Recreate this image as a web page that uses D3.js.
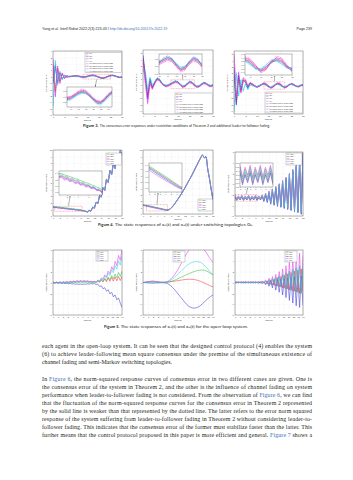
<!DOCTYPE html>
<html><head><meta charset="utf-8">
<script src="https://cdn.jsdelivr.net/npm/d3@7/dist/d3.min.js"></script>
<style>html,body{margin:0;padding:0;background:#fff;}svg{display:block}</style>
</head><body>
<svg id="page" width="353" height="480" viewBox="0 0 353 480"></svg>
<script>
// ================= DATA =================
// Figure 3 (consensus errors), time 0..30
const f3Time = d3.range(0, 31, 1);
const f3XTicks = [0,5,10,15,20,25,30];
const f3YTicks = [-6,-5,-4,-3,-2,-1,0,1,2,3,4];
const f3YTicksB = [-4,-3,-2,-1,0,1,2,3,4,5];
const f3Labels = ["e1(t)","e2(t)","e3(t)","e4(t)",
  "e1(t) without leader-to-follower fading","e2(t) without leader-to-follower fading",
  "e3(t) without leader-to-follower fading","e4(t) without leader-to-follower fading"];
// panel a
const f3aE1 = [1.8,-2.4,1.2,-0.7,0.4,-0.2,0.1,0.02,0.05,0.08,0.1,0.06,0.0,-0.05,-0.02,0.05,0.12,0.18,0.15,0.05,-0.08,-0.18,-0.2,-0.1,0.05,0.15,0.18,0.1,-0.02,-0.1,-0.08];
const f3aE2 = [-1.2,1.6,-0.9,0.6,-0.35,0.2,-0.08,0.0,0.04,0.06,0.08,0.04,-0.02,-0.08,-0.06,0.02,0.1,0.15,0.12,0.02,-0.1,-0.2,-0.22,-0.12,0.02,0.12,0.16,0.08,-0.04,-0.12,-0.1];
const f3aE3 = [2.8,-3.2,1.6,-1.0,0.55,-0.3,0.15,-0.05,0.0,0.1,0.14,0.1,0.04,-0.02,0.0,0.08,0.16,0.22,0.2,0.08,-0.05,-0.15,-0.18,-0.06,0.08,0.18,0.22,0.12,0.0,-0.08,-0.05];
const f3aE4 = [-4.8,2.4,-1.3,0.8,-0.45,0.25,-0.12,0.06,0.02,0.04,0.05,0.0,-0.06,-0.12,-0.1,-0.02,0.06,0.12,0.1,0.0,-0.12,-0.24,-0.26,-0.16,-0.02,0.1,0.14,0.06,-0.06,-0.14,-0.12];
const f3aE1n = [1.6,-2.2,1.3,-0.8,0.5,-0.25,0.12,0.0,0.06,0.12,0.14,0.08,-0.02,-0.1,-0.06,0.06,0.18,0.24,0.2,0.06,-0.12,-0.24,-0.26,-0.12,0.06,0.2,0.24,0.12,-0.04,-0.14,-0.1];
const f3aE2n = [-1.0,1.8,-1.0,0.65,-0.4,0.22,-0.1,0.02,0.06,0.1,0.12,0.06,-0.04,-0.12,-0.1,0.02,0.14,0.2,0.16,0.02,-0.14,-0.26,-0.28,-0.14,0.04,0.16,0.2,0.1,-0.06,-0.16,-0.12];
const f3aE3n = [2.6,-3.0,1.7,-1.1,0.6,-0.32,0.18,-0.04,0.02,0.14,0.18,0.14,0.06,-0.04,-0.02,0.1,0.2,0.28,0.24,0.1,-0.08,-0.2,-0.22,-0.08,0.1,0.22,0.26,0.14,0.0,-0.1,-0.06];
const f3aE4n = [-4.5,2.6,-1.4,0.85,-0.5,0.28,-0.14,0.08,0.04,0.08,0.08,0.02,-0.08,-0.16,-0.14,-0.04,0.08,0.16,0.14,0.02,-0.16,-0.3,-0.32,-0.2,-0.04,0.12,0.18,0.08,-0.08,-0.18,-0.14];
// panel b
const f3bE1 = [4.2,1.0,-1.6,0.6,-0.4,0.3,0.9,0.8,0.3,0.0,-0.1,0.0,0.2,0.35,0.5,0.4,0.1,-0.2,-0.1,0.2,0.45,0.35,0.05,-0.2,-0.15,0.1,0.3,0.25,0.0,-0.1,0.0];
const f3bE2 = [4.7,1.6,-2.0,0.9,-0.3,0.4,1.0,0.9,0.35,0.05,-0.05,0.05,0.25,0.45,0.6,0.5,0.15,-0.15,-0.05,0.25,0.55,0.45,0.1,-0.15,-0.1,0.15,0.35,0.3,0.05,-0.05,0.05];
const f3bE3 = [3.6,0.2,-2.9,0.2,-0.6,0.2,0.8,0.7,0.2,-0.1,-0.2,-0.1,0.1,0.25,0.4,0.3,0.0,-0.3,-0.2,0.1,0.35,0.25,-0.05,-0.3,-0.25,0.0,0.2,0.15,-0.1,-0.2,-0.1];
const f3bE4 = [2.4,2.0,-0.8,1.2,0.0,0.5,1.1,0.95,0.4,0.1,0.0,0.1,0.3,0.4,0.5,0.45,0.2,-0.05,0.0,0.3,0.5,0.4,0.15,-0.1,-0.05,0.2,0.4,0.3,0.1,0.0,0.1];
const f3bE1n = [4.0,1.2,-1.8,0.7,-0.5,0.35,1.0,0.9,0.35,-0.05,-0.2,-0.05,0.25,0.45,0.6,0.45,0.05,-0.3,-0.2,0.25,0.55,0.4,0.0,-0.3,-0.25,0.1,0.4,0.3,-0.05,-0.2,-0.05];
const f3bE2n = [4.5,1.8,-2.2,1.0,-0.4,0.45,1.1,1.0,0.4,0.0,-0.1,0.05,0.3,0.55,0.7,0.55,0.1,-0.25,-0.15,0.3,0.65,0.5,0.05,-0.25,-0.2,0.15,0.45,0.35,0.0,-0.15,0.0];
const f3bE3n = [3.4,0.4,-2.7,0.3,-0.7,0.25,0.9,0.8,0.25,-0.15,-0.3,-0.15,0.15,0.35,0.5,0.35,-0.05,-0.4,-0.3,0.15,0.45,0.3,-0.1,-0.4,-0.35,0.0,0.3,0.2,-0.15,-0.3,-0.15];
const f3bE4n = [2.2,2.2,-0.6,1.3,0.1,0.55,1.2,1.05,0.45,0.05,-0.05,0.1,0.35,0.5,0.6,0.5,0.15,-0.15,-0.1,0.35,0.6,0.45,0.1,-0.2,-0.15,0.2,0.5,0.35,0.05,-0.1,0.05];
// panel c
const f3cE1 = [1.5,-2.6,1.1,-0.9,0.6,0.8,-0.2,0.3,0.2,0.0,-0.2,-0.1,0.1,0.3,0.2,-0.05,-0.3,-0.2,0.1,0.3,0.25,-0.05,-0.25,-0.15,0.1,0.25,0.15,-0.05,-0.15,0.0,0.1];
const f3cE2 = [3.0,-3.1,1.6,-0.6,0.9,0.5,-0.4,0.4,0.1,-0.1,-0.15,0.0,0.15,0.25,0.1,-0.15,-0.25,-0.1,0.15,0.25,0.15,-0.1,-0.2,-0.1,0.15,0.2,0.1,-0.1,-0.1,0.05,0.1];
const f3cE3 = [5.2,-1.9,2.1,-1.1,1.2,0.9,0.0,0.5,0.3,0.05,-0.25,-0.05,0.2,0.4,0.3,0.0,-0.35,-0.25,0.15,0.4,0.35,0.0,-0.3,-0.2,0.1,0.3,0.2,-0.05,-0.2,-0.05,0.1];
const f3cE4 = [-4.2,1.9,-1.6,0.9,-0.8,0.3,-0.6,0.1,0.0,-0.05,-0.1,0.05,0.2,0.2,0.0,-0.2,-0.2,0.0,0.25,0.2,0.05,-0.15,-0.15,0.0,0.2,0.15,0.05,-0.1,-0.05,0.1,0.15];
const f3cE1n = [1.4,-2.4,1.2,-1.0,0.7,0.9,-0.25,0.35,0.25,0.0,-0.3,-0.15,0.15,0.4,0.25,-0.1,-0.4,-0.25,0.15,0.4,0.3,-0.1,-0.35,-0.2,0.15,0.35,0.2,-0.1,-0.2,0.0,0.15];
const f3cE2n = [2.8,-2.9,1.7,-0.7,1.0,0.55,-0.45,0.45,0.15,-0.15,-0.25,0.0,0.2,0.35,0.15,-0.2,-0.35,-0.15,0.2,0.35,0.2,-0.15,-0.3,-0.15,0.2,0.3,0.15,-0.15,-0.15,0.05,0.15];
const f3cE3n = [5.0,-1.7,2.2,-1.2,1.3,1.0,0.05,0.55,0.35,0.05,-0.35,-0.1,0.25,0.5,0.35,0.0,-0.45,-0.3,0.2,0.5,0.4,0.0,-0.4,-0.25,0.15,0.4,0.25,-0.1,-0.25,-0.05,0.15];
const f3cE4n = [-4.0,2.1,-1.7,1.0,-0.9,0.35,-0.65,0.15,0.0,-0.1,-0.2,0.05,0.25,0.3,0.05,-0.25,-0.3,0.0,0.3,0.3,0.05,-0.2,-0.25,0.0,0.25,0.25,0.05,-0.15,-0.1,0.1,0.2];

// Figure 4 (state responses, switching topologies), time 0..20 step 0.5
const f4Time = d3.range(0, 20.001, 0.5);
const f4XTicks = [0,2,4,6,8,10,12,14,16,18,20];
const f4YTicks = [0,1,2,3,4,5,6,7,8,9,10];
const f4YTicksC = [-6,-4,-2,0,2,4,6];
const f4Labels = ["x11(t)","x21(t)","x31(t)","x41(t)","x51(t)"];
const f4aX1 = [1.44,1.40,1.39,1.35,1.33,1.29,1.27,1.23,1.21,1.17,1.14,1.10,1.08,1.03,1.01,0.96,0.93,0.87,0.83,0.74,0.65,0.87,0.77,1.37,1.22,2.12,1.92,3.12,2.92,4.32,3.92,5.62,5.12,6.92,6.32,8.02,7.22,9.02,8.02,9.92,9.22];
const f4aX2 = [1.38,1.30,1.33,1.27,1.28,1.20,1.22,1.15,1.16,1.08,1.09,1.02,1.02,0.95,0.95,0.88,0.87,0.80,0.78,0.69,0.61,0.84,0.74,1.34,1.19,2.09,1.89,3.09,2.89,4.29,3.89,5.59,5.09,6.89,6.29,7.99,7.19,8.99,7.99,9.89,9.19];
const f4aX3 = [1.36,1.28,1.30,1.22,1.24,1.16,1.18,1.10,1.12,1.04,1.06,0.99,1.00,0.93,0.94,0.87,0.86,0.79,0.77,0.68,0.60,0.83,0.73,1.33,1.18,2.08,1.88,3.08,2.88,4.28,3.88,5.58,5.08,6.88,6.28,7.98,7.18,8.98,7.98,9.88,9.18];
const f4aX4 = [1.32,1.25,1.27,1.19,1.20,1.13,1.15,1.07,1.09,1.02,1.03,0.96,0.97,0.91,0.92,0.85,0.85,0.78,0.76,0.67,0.59,0.82,0.72,1.32,1.17,2.07,1.87,3.07,2.87,4.27,3.87,5.57,5.07,6.87,6.27,7.97,7.17,8.97,7.97,9.87,9.17];
const f4aX5 = [1.40,1.34,1.37,1.29,1.31,1.23,1.25,1.17,1.19,1.11,1.12,1.04,1.05,0.97,0.98,0.90,0.90,0.82,0.80,0.70,0.62,0.85,0.75,1.35,1.20,2.10,1.90,3.10,2.90,4.30,3.90,5.60,5.10,6.90,6.30,8.00,7.20,9.00,8.00,9.90,9.20];
const f4bX1 = [1.46,1.41,1.36,1.30,1.24,1.18,1.12,1.06,1.00,0.94,0.88,0.81,0.75,0.68,0.63,0.72,0.92,1.22,1.57,1.97,2.37,2.77,3.22,3.67,4.12,4.62,5.12,5.62,6.12,6.67,7.22,7.77,8.32,8.82,9.22,8.82,8.97,7.02,5.52,3.82,2.22];
const f4bX2 = [1.42,1.37,1.31,1.26,1.20,1.14,1.08,1.02,0.96,0.90,0.84,0.78,0.72,0.66,0.61,0.71,0.91,1.21,1.56,1.96,2.36,2.76,3.21,3.66,4.11,4.61,5.11,5.61,6.11,6.66,7.21,7.76,8.31,8.81,9.21,8.81,8.96,7.01,5.51,3.81,2.21];
const f4bX3 = [1.38,1.32,1.27,1.21,1.15,1.09,1.03,0.97,0.91,0.85,0.79,0.73,0.68,0.62,0.59,0.69,0.89,1.19,1.54,1.94,2.34,2.74,3.19,3.64,4.09,4.59,5.09,5.59,6.09,6.64,7.19,7.74,8.29,8.79,9.19,8.79,8.94,6.99,5.49,3.79,2.19];
const f4bX4 = [1.34,1.27,1.22,1.15,1.09,1.03,0.97,0.92,0.86,0.81,0.76,0.70,0.65,0.60,0.57,0.68,0.88,1.18,1.53,1.93,2.33,2.73,3.18,3.63,4.08,4.58,5.08,5.58,6.08,6.63,7.18,7.73,8.28,8.78,9.18,8.78,8.93,6.98,5.48,3.78,2.18];
const f4bX5 = [1.40,1.35,1.30,1.24,1.18,1.12,1.06,1.00,0.94,0.88,0.82,0.76,0.70,0.64,0.60,0.70,0.90,1.20,1.55,1.95,2.35,2.75,3.20,3.65,4.10,4.60,5.10,5.60,6.10,6.65,7.20,7.75,8.30,8.80,9.20,8.80,8.95,7.00,5.50,3.80,2.20];
const f4cX1 = [-2.2,-2.8,-2.3,-2.7,-2.2,-2.8,-2.3,-2.7,-2.2,-2.8,-2.3,-2.7,-2.2,-2.8,-2.3,-2.7,-2.1,-3.0,-1.8,-3.2,-1.4,-3.5,-1.0,-3.7,-0.5,-3.9,0.0,-4.1,0.6,-4.3,1.2,-4.5,1.9,-4.7,2.7,-4.9,3.5,-5.1,4.5,-5.4,5.9];
const f4cX2 = [-2.4,-3.0,-2.5,-2.9,-2.4,-3.0,-2.5,-2.9,-2.4,-3.0,-2.5,-2.9,-2.4,-3.0,-2.5,-2.9,-2.3,-3.2,-2.0,-3.4,-1.6,-3.7,-1.2,-3.9,-0.7,-4.1,-0.2,-4.3,0.4,-4.5,1.0,-4.7,1.7,-4.9,2.5,-5.1,3.3,-5.3,4.3,-5.6,5.7];
const f4cX3 = [-2.5,-3.1,-2.6,-3.0,-2.5,-3.1,-2.6,-3.0,-2.5,-3.1,-2.6,-3.0,-2.5,-3.1,-2.6,-3.0,-2.4,-3.3,-2.1,-3.5,-1.7,-3.8,-1.3,-4.0,-0.8,-4.2,-0.3,-4.4,0.3,-4.6,0.9,-4.8,1.6,-5.0,2.4,-5.2,3.2,-5.4,4.2,-5.7,5.6];
const f4cX4 = [-2.1,-2.7,-2.2,-2.6,-2.1,-2.7,-2.2,-2.6,-2.1,-2.7,-2.2,-2.6,-2.1,-2.7,-2.2,-2.6,-2.0,-2.9,-1.7,-3.1,-1.3,-3.4,-0.9,-3.6,-0.4,-3.8,0.1,-4.0,0.7,-4.2,1.3,-4.4,2.0,-4.6,2.8,-4.8,3.6,-5.0,4.6,-5.3,6.0];
const f4cX5 = [-2.3,-2.9,-2.4,-2.8,-2.3,-2.9,-2.4,-2.8,-2.3,-2.9,-2.4,-2.8,-2.3,-2.9,-2.4,-2.8,-2.2,-3.1,-1.9,-3.3,-1.5,-3.6,-1.1,-3.8,-0.6,-4.0,-0.1,-4.2,0.5,-4.4,1.1,-4.6,1.8,-4.8,2.6,-5.0,3.4,-5.2,4.4,-5.5,5.8];

// Figure 5 (open-loop), time 0..14 step 0.35
const f5Time = d3.range(0, 14.001, 0.35);
const f5XTicks = [0,1,2,3,4,5,6,7,8,9,10,11,12,13,14];
const f5YTicks = [-6,-4,-2,0,2,4,6];
const f5Labels = ["x11(t)","x21(t)","x31(t)","x41(t)","x51(t)"];
const f5aX1 = [0.08,-0.02,0.08,-0.02,0.1,0.0,0.12,0.02,0.16,0.06,0.2,0.1,0.26,0.14,0.3,0.18,0.32,0.2,0.3,0.18,0.26,0.14,0.2,0.1,0.15,0.05,0.35,0.05,0.55,0.1,0.7,0.15,0.85,0.2,0.95,0.25,1.05,0.3,1.1,0.35,1.15];
const f5aX2 = [0.0,-0.1,0.0,-0.1,0.0,-0.1,0.02,-0.08,0.04,-0.06,0.06,-0.04,0.08,-0.02,0.1,0.0,0.1,0.0,0.1,0.0,0.08,-0.02,0.06,-0.04,0.05,-0.05,0.25,0.05,0.45,0.2,0.7,0.35,0.95,0.5,1.25,0.7,1.55,0.9,1.85,1.1,2.1];
const f5aX3 = [-0.02,-0.12,-0.04,-0.14,-0.06,-0.16,-0.1,-0.2,-0.14,-0.24,-0.18,-0.28,-0.22,-0.32,-0.26,-0.34,-0.28,-0.36,-0.28,-0.34,-0.24,-0.3,-0.2,-0.26,-0.2,-0.4,-0.3,-0.75,-0.6,-1.15,-0.95,-1.6,-1.35,-2.1,-1.8,-2.65,-2.3,-3.2,-2.85,-3.8,-4.6];
const f5aX4 = [0.05,-0.05,0.05,-0.05,0.06,-0.04,0.08,-0.02,0.1,0.0,0.14,0.04,0.2,0.1,0.28,0.16,0.32,0.2,0.34,0.22,0.3,0.18,0.24,0.12,0.2,0.1,0.45,0.3,0.85,0.6,1.4,1.0,2.1,1.6,2.9,2.3,3.9,3.1,5.0,4.1,6.2];
const f5aX5 = [0.02,-0.08,0.03,-0.07,0.04,-0.06,0.05,-0.05,0.07,-0.03,0.1,0.0,0.14,0.04,0.2,0.08,0.22,0.1,0.22,0.1,0.2,0.08,0.16,0.04,0.12,0.05,0.35,0.2,0.7,0.45,1.15,0.8,1.7,1.25,2.35,1.8,3.1,2.45,4.0,3.2,4.9];
const f5bX1 = [0.0,0.05,0.1,0.15,0.2,0.22,0.22,0.2,0.16,0.12,0.08,0.06,0.05,0.06,0.08,0.12,0.16,0.2,0.25,0.3,0.35,0.4,0.45,0.5,0.55,0.58,0.6,0.6,0.58,0.55,0.5,0.42,0.32,0.2,0.06,-0.1,-0.25,-0.4,-0.55,-0.7,-0.8];
const f5bX2 = [0.0,0.0,0.02,0.04,0.05,0.06,0.06,0.05,0.04,0.02,0.0,0.0,0.0,0.02,0.05,0.12,0.2,0.3,0.42,0.55,0.7,0.85,1.0,1.15,1.3,1.45,1.6,1.75,1.88,2.0,2.1,2.2,2.25,2.3,2.3,2.25,2.15,2.0,1.8,1.6,1.4];
const f5bX3 = [0.0,-0.02,-0.05,-0.08,-0.1,-0.12,-0.12,-0.1,-0.08,-0.06,-0.05,-0.05,-0.06,-0.1,-0.2,-0.4,-0.65,-0.95,-1.3,-1.7,-2.1,-2.5,-2.9,-3.3,-3.7,-4.05,-4.35,-4.55,-4.68,-4.72,-4.7,-4.6,-4.45,-4.2,-3.9,-3.6,-3.3,-3.0,-2.75,-2.5,-2.3];
const f5bX4 = [0.0,0.05,0.1,0.15,0.2,0.25,0.25,0.2,0.15,0.1,0.05,0.05,0.05,0.1,0.2,0.4,0.7,1.0,1.4,1.9,2.4,3.0,3.6,4.2,4.8,5.4,5.9,6.3,6.6,6.8,6.9,6.9,6.8,6.6,6.3,6.0,5.6,5.1,4.6,4.1,3.7];
const f5bX5 = [0.0,0.02,0.05,0.08,0.1,0.12,0.12,0.1,0.08,0.05,0.03,0.02,0.02,0.05,0.1,0.25,0.45,0.7,0.95,1.25,1.55,1.85,2.2,2.5,2.8,3.1,3.35,3.55,3.7,3.8,3.85,3.85,3.8,3.7,3.5,3.2,2.9,2.5,2.1,1.7,1.4];
const f5cX1 = [0.0,0.05,0.0,0.05,0.0,0.05,0.0,0.05,0.0,0.05,0.0,0.05,0.0,0.05,-0.05,0.08,-0.08,0.12,-0.2,0.3,-0.35,0.5,-0.5,0.7,-0.65,0.9,-0.8,1.1,-1.0,1.35,-1.2,1.6,-1.4,1.85,-1.6,2.1,-1.8,2.3,-2.0,2.5,-1.6];
const f5cX2 = [0.1,-0.05,0.1,-0.05,0.1,-0.05,0.1,-0.05,0.1,-0.05,0.1,-0.05,0.1,-0.05,0.12,-0.06,0.15,-0.08,0.3,-0.2,0.5,-0.35,0.7,-0.5,0.95,-0.65,1.2,-0.8,1.5,-1.0,1.8,-1.2,2.1,-1.4,2.4,-1.6,2.7,-1.8,3.0,-2.0,2.6];
const f5cX3 = [-0.1,0.1,-0.1,0.1,-0.1,0.1,-0.1,0.1,-0.1,0.1,-0.1,0.1,-0.1,0.1,-0.15,0.1,-0.2,0.15,-0.4,0.2,-0.7,0.3,-1.0,0.4,-1.4,0.5,-1.8,0.6,-2.3,0.7,-2.8,0.8,-3.3,0.9,-3.8,1.0,-4.3,1.1,-4.6,1.2,-4.2];
const f5cX4 = [0.2,-0.1,0.2,-0.1,0.2,-0.1,0.2,-0.1,0.2,-0.1,0.2,-0.1,0.2,-0.1,0.25,-0.1,0.3,-0.15,0.5,-0.2,0.8,-0.3,1.1,-0.4,1.5,-0.5,2.0,-0.6,2.5,-0.7,3.1,-0.8,3.7,-0.9,4.3,-1.0,4.9,-1.1,5.4,-1.2,5.0];
const f5cX5 = [0.05,0.0,0.05,0.0,0.05,0.0,0.05,0.0,0.05,0.0,0.05,0.0,0.05,0.0,0.08,-0.03,0.1,-0.05,0.25,-0.1,0.45,-0.2,0.65,-0.3,0.9,-0.4,1.15,-0.5,1.45,-0.6,1.75,-0.7,2.05,-0.8,2.4,-0.9,2.75,-1.0,3.1,-1.1,2.8];

// ================= STYLE =================
const C = {red:"#f0373c", blue:"#3a3ad8", mag:"#e23ee6", cyan:"#2fd3e6", green:"#2fbf3a"};
const SANS = "'Liberation Sans', Arial, sans-serif";
const svg = d3.select("#page");
svg.append("rect").attr("width",353).attr("height",480).attr("fill","#fff");
const defs = svg.append("defs");
defs.append("marker").attr("id","arr").attr("viewBox","0 0 10 10").attr("refX",9).attr("refY",5)
  .attr("markerWidth",4).attr("markerHeight",4).attr("orient","auto")
  .append("path").attr("d","M0,1 L10,5 L0,9 Z").attr("fill","#222");

function mk(vals, labels, colors, dashes){
  return vals.map((v,i)=>({values:v,label:labels[i],color:colors[i],dashed:dashes?dashes[i]:false}));
}

let clipN = 0;
function styleAxis(a, fs){
  a.select(".domain").remove();
  a.selectAll(".tick line").attr("stroke","#d2d2d2").attr("stroke-width",0.25).attr("stroke-dasharray","0.6,0.6");
  a.selectAll(".tick text").attr("font-size",fs).attr("fill","#333").attr("font-family",SANS);
}
function drawPanel(p){
  const g = svg.append("g");
  const x = d3.scaleLinear().domain(p.xDomain).range([p.x, p.x+p.w]);
  const y = d3.scaleLinear().domain(p.yDomain).range([p.y+p.h, p.y]);
  const gx = g.append("g").attr("transform",`translate(0,${p.y+p.h})`)
    .call(d3.axisBottom(x).tickValues(p.xTicks).tickSize(-p.h).tickPadding(1.1));
  const gy = g.append("g").attr("transform",`translate(${p.x},0)`)
    .call(d3.axisLeft(y).tickValues(p.yTicks).tickSize(-p.w).tickPadding(1.1));
  styleAxis(gx,2.2); styleAxis(gy,2.2);
  const cid = "cl"+(clipN++);
  g.append("clipPath").attr("id",cid).append("rect").attr("x",p.x).attr("y",p.y).attr("width",p.w).attr("height",p.h);
  const lg = g.append("g").attr("clip-path",`url(#${cid})`);
  const line = d3.line().x((d,i)=>x(p.t[i])).y(d=>y(d)).curve(p.smooth?d3.curveMonotoneX:d3.curveLinear);
  p.series.forEach(s=>lg.append("path").attr("d",line(s.values)).attr("fill","none")
    .attr("stroke",s.color).attr("stroke-width",0.55).attr("stroke-linejoin","round")
    .attr("stroke-dasharray",s.dashed?"1.2,0.7":null));
  g.append("rect").attr("x",p.x).attr("y",p.y).attr("width",p.w).attr("height",p.h)
    .attr("fill","none").attr("stroke","#444").attr("stroke-width",0.4);
  g.append("text").attr("x",p.x+p.w/2).attr("y",p.y+p.h+5.6).attr("text-anchor","middle")
    .attr("font-size",2.3).attr("font-family",SANS).attr("fill","#333").text("Time(s)");
  g.append("text").attr("transform",`translate(${p.x-5.6},${p.y+p.h/2}) rotate(-90)`).attr("text-anchor","middle")
    .attr("font-size",2.4).attr("font-family",SANS).attr("fill","#333").text(p.yLabel);
  if(p.inset) drawInset(g,p,x,y);
  if(p.legend) drawLegend(g,p);
}
function drawInset(g,p,x,y){
  const s=p.inset, t0=s.win[0], t1=s.win[1];
  const vals=[];
  p.series.forEach(se=>se.values.forEach((v,i)=>{ if(p.t[i]>=t0-1e-9 && p.t[i]<=t1+1e-9) vals.push(v); }));
  let [lo,hi]=d3.extent(vals); const pad=(hi-lo)*0.12; lo-=pad; hi+=pad;
  const rx=x(t0), rw=x(t1)-x(t0), ry=y(hi), rh=y(lo)-y(hi);
  g.append("rect").attr("x",rx).attr("y",ry).attr("width",rw).attr("height",rh).attr("fill","none")
    .attr("stroke","#e8343a").attr("stroke-width",0.35).attr("stroke-dasharray","0.9,0.6");
  const ix=d3.scaleLinear().domain([t0,t1]).range([s.x,s.x+s.w]);
  const iy=d3.scaleLinear().domain([lo,hi]).range([s.y+s.h,s.y]);
  g.append("rect").attr("x",s.x).attr("y",s.y).attr("width",s.w).attr("height",s.h).attr("fill","#fff");
  const ax=g.append("g").attr("transform",`translate(0,${s.y+s.h})`).call(d3.axisBottom(ix).ticks(5).tickSize(0.8).tickPadding(0.6));
  const ay=g.append("g").attr("transform",`translate(${s.x},0)`).call(d3.axisLeft(iy).ticks(4).tickSize(0.8).tickPadding(0.6));
  [ax,ay].forEach(a=>{a.select(".domain").remove(); a.selectAll(".tick line").attr("stroke","#444").attr("stroke-width",0.25);
    a.selectAll(".tick text").attr("font-size",1.7).attr("fill","#333").attr("font-family",SANS);});
  const cid="cl"+(clipN++);
  g.append("clipPath").attr("id",cid).append("rect").attr("x",s.x).attr("y",s.y).attr("width",s.w).attr("height",s.h);
  const lg=g.append("g").attr("clip-path",`url(#${cid})`);
  const line=d3.line().defined((d,i)=>p.t[i]>=t0-1e-9 && p.t[i]<=t1+1e-9).x((d,i)=>ix(p.t[i])).y(d=>iy(d));
  p.series.forEach(se=>lg.append("path").attr("d",line(se.values)).attr("fill","none").attr("stroke",se.color)
    .attr("stroke-width",0.5).attr("stroke-dasharray",se.dashed?"1.1,0.6":null));
  g.append("rect").attr("x",s.x).attr("y",s.y).attr("width",s.w).attr("height",s.h).attr("fill","none")
    .attr("stroke","#444").attr("stroke-width",0.35);
  const cx=rx+rw/2;
  let y1,y2;
  if(s.y+s.h/2 < ry){ y1=ry-0.3; y2=s.y+s.h+1.2; } else { y1=ry+rh+0.3; y2=s.y-0.4; }
  g.append("line").attr("x1",cx).attr("y1",y1).attr("x2",cx+(s.ax||0)).attr("y2",y2)
    .attr("stroke","#222").attr("stroke-width",0.35).attr("marker-end","url(#arr)");
}
function drawLegend(g,p){
  const L=p.legend, n=p.series.length, rh=L.h/n;
  g.append("rect").attr("x",L.x).attr("y",L.y).attr("width",L.w).attr("height",L.h)
    .attr("fill","#fff").attr("stroke","#555").attr("stroke-width",0.25);
  p.series.forEach((s,i)=>{
    const cy=L.y+rh*(i+0.5);
    g.append("line").attr("x1",L.x+0.8).attr("x2",L.x+3.6).attr("y1",cy).attr("y2",cy)
      .attr("stroke",s.color).attr("stroke-width",0.5).attr("stroke-dasharray",s.dashed?"0.8,0.4":null);
    g.append("text").attr("x",L.x+4.2).attr("y",cy+0.5).attr("font-size",L.fs).attr("font-family",SANS)
      .attr("fill","#222").text(s.label);
  });
}

const f3Colors=[C.red,C.blue,C.mag,C.cyan,C.red,C.blue,C.mag,C.cyan];
const f3Dash=[false,false,false,false,true,true,true,true];
const f4Colors=[C.green,C.red,C.blue,C.mag,C.cyan];
const f5Colors=[C.red,C.green,C.blue,C.mag,C.cyan];

// ---------- Figure 3 ----------
drawPanel({x:53,y:51,w:69,h:64,t:f3Time,xDomain:[0,30],yDomain:[-6,4],xTicks:f3XTicks,yTicks:f3YTicks,yLabel:"Consensus Error",
  series:mk([f3aE1,f3aE2,f3aE3,f3aE4,f3aE1n,f3aE2n,f3aE3n,f3aE4n],f3Labels,f3Colors,f3Dash),
  inset:{x:67,y:87,w:45,h:20,win:[13,25],ax:-1.5}, legend:{x:85,y:52.5,w:36.5,h:20,fs:1.45}});
drawPanel({x:143,y:50,w:70,h:64,t:f3Time,xDomain:[0,30],yDomain:[-4.5,5.5],xTicks:f3XTicks,yTicks:f3YTicksB,yLabel:"Consensus Error",
  series:mk([f3bE1,f3bE2,f3bE3,f3bE4,f3bE1n,f3bE2n,f3bE3n,f3bE4n],f3Labels,f3Colors,f3Dash),
  inset:{x:159,y:54,w:43,h:20,win:[12,22],ax:0}, legend:{x:175,y:93,w:37.5,h:20.5,fs:1.45}});
drawPanel({x:234,y:51,w:69,h:63,t:f3Time,xDomain:[0,30],yDomain:[-4.5,5.5],xTicks:f3XTicks,yTicks:f3YTicksB,yLabel:"Consensus Error",
  series:mk([f3cE1,f3cE2,f3cE3,f3cE4,f3cE1n,f3cE2n,f3cE3n,f3cE4n],f3Labels,f3Colors,f3Dash),
  inset:{x:245,y:54,w:47,h:21,win:[13,22],ax:0.5}, legend:{x:265,y:92,w:37.5,h:21,fs:1.45}});

// ---------- Figure 4 ----------
drawPanel({x:53,y:150,w:69,h:66,t:f4Time,xDomain:[0,20],yDomain:[0,10],xTicks:f4XTicks,yTicks:f4YTicks,yLabel:"State Responses",
  series:mk([f4aX1,f4aX2,f4aX3,f4aX4,f4aX5],f4Labels,f4Colors),
  inset:{x:59,y:171,w:43,h:24,win:[0.5,8.5],ax:1.5}, legend:{x:106,y:153,w:15.5,h:12,fs:1.5}});
drawPanel({x:143,y:150,w:70,h:64,t:f4Time,xDomain:[0,20],yDomain:[0,10],xTicks:f4XTicks,yTicks:f4YTicks,yLabel:"State Responses",smooth:true,
  series:mk([f4bX1,f4bX2,f4bX3,f4bX4,f4bX5],f4Labels,f4Colors),
  inset:{x:149,y:163,w:33,h:29,win:[1,7],ax:1}, legend:{x:198,y:199,w:14.5,h:12,fs:1.5}});
drawPanel({x:235,y:152,w:68,h:64,t:f4Time,xDomain:[0,20],yDomain:[-6,6],xTicks:f4XTicks,yTicks:f4YTicksC,yLabel:"State Responses",
  series:mk([f4cX1,f4cX2,f4cX3,f4cX4,f4cX5],f4Labels,f4Colors),
  inset:{x:240,y:163,w:33,h:24,win:[0,6.5],ax:1.5}, legend:{x:286,y:153,w:16,h:12,fs:1.5}});

// ---------- Figure 5 ----------
drawPanel({x:53,y:250,w:69,h:65,t:f5Time,xDomain:[0,14],yDomain:[-6,6],xTicks:f5XTicks,yTicks:f5YTicks,yLabel:"State Responses",
  series:mk([f5aX1,f5aX2,f5aX3,f5aX4,f5aX5],f5Labels,f5Colors),
  legend:{x:96,y:251,w:12,h:10,fs:1.3}});
drawPanel({x:143,y:250,w:70,h:65,t:f5Time,xDomain:[0,14],yDomain:[-6,6],xTicks:f5XTicks,yTicks:f5YTicks,yLabel:"State Responses",smooth:true,
  series:mk([f5bX1,f5bX2,f5bX3,f5bX4,f5bX5],f5Labels,f5Colors),
  legend:{x:173,y:251,w:12,h:11,fs:1.3}});
drawPanel({x:235,y:250,w:68,h:65,t:f5Time,xDomain:[0,14],yDomain:[-6,6],xTicks:f5XTicks,yTicks:f5YTicks,yLabel:"State Responses",
  series:mk([f5cX1,f5cX2,f5cX3,f5cX4,f5cX5],f5Labels,f5Colors),
  legend:{x:285,y:251,w:12,h:11,fs:1.3}});

// ================= TEXT =================
const INK="#231f20", LINK="#3a6db5";
const hd = svg.append("text").attr("x",42).attr("y",30.3).attr("font-size",3.6).attr("font-family",SANS).attr("fill",INK);
hd.append("tspan").text("Yang ");
hd.append("tspan").attr("font-style","italic").text("et al. Intell Robot");
hd.append("tspan").text(" 2022;2(3):223-43  I  ");
hd.append("tspan").attr("fill",LINK).text("http://dx.doi.org/10.20517/ir.2022.19");
svg.append("text").attr("x",312).attr("y",30.3).attr("text-anchor","end").attr("font-size",3.6)
  .attr("font-family",SANS).attr("fill",INK).text("Page 239");

// captions: bold label + text fitted to the reference span
function caption(x, yb, len, num, rest){
  const CF="Lato, 'Liberation Sans', sans-serif";
  const a=svg.append("text").attr("x",x).attr("y",yb).attr("font-size",4.0).attr("font-family",CF)
    .attr("font-weight","bold").attr("fill",INK).text(num);
  const w=a.node().getComputedTextLength();
  svg.append("text").attr("x",x+w+1.2).attr("y",yb).attr("font-size",4.0).attr("font-family",CF)
    .attr("fill",INK).attr("textLength",len-w-1.2).attr("lengthAdjust","spacingAndGlyphs").text(rest);
}
caption(83,126.5,187,"Figure 3.","The consensus error responses under restriction conditions of Theorem 2 and additional leader-to-follower fading.");
caption(98,225.5,155,"Figure 4.","The state responses of x\u1d62\u2081(t) and x\u1d62\u2082(t) under switching topologies G\u2082.");
caption(104,327.5,144,"Figure 5.","The state responses of x\u1d62\u2081(t) and x\u1d62\u2082(t) for the open-loop system.");

// body text
const body = svg.append("g").attr("font-family","'Liberation Serif','Times New Roman',serif").attr("font-size",5.9).attr("fill",INK);
function bline(yb, parts, justify){
  const t=body.append("text").attr("x",42).attr("y",yb);
  parts.forEach(pt=>{ if(typeof pt==="string") t.append("tspan").text(pt); else t.append("tspan").attr("fill",LINK).text(pt.l); });
  if(justify) t.attr("textLength",270).attr("lengthAdjust","spacing");
}
bline(347.8,["each agent in the open-loop system. It can be seen that the designed control protocol (4) enables the system"],true);
bline(355.8,["(6) to achieve leader-following mean square consensus under the premise of the simultaneous existence of"],true);
bline(363.8,["channel fading and semi-Markov switching topologies."],false);
bline(380.8,["In ",{l:"Figure 6"},", the norm-squared response curves of consensus error in two different cases are given.  One is"],true);
bline(388.8,["the consensus error of the system in Theorem 2, and the other is the influence of channel fading on system"],true);
bline(396.8,["performance when leader-to-follower fading is not considered. From the observation of ",{l:"Figure 6"},", we can find"],true);
bline(404.8,["that the fluctuation of the norm-squared response curves for the consensus error in Theorem 2 represented"],true);
bline(412.8,["by the solid line is weaker than that represented by the dotted line. The latter refers to the error norm squared"],true);
bline(420.8,["response of the system suffering from leader-to-follower fading in Theorem 2 without considering leader-to-"],true);
bline(428.8,["follower fading. This indicates that the consensus error of the former must stabilize faster than the latter. This"],true);
bline(436.8,["further means that the control protocol proposed in this paper is more efficient and general. ",{l:"Figure 7"}," shows a"],true);
</script>
</body></html>
